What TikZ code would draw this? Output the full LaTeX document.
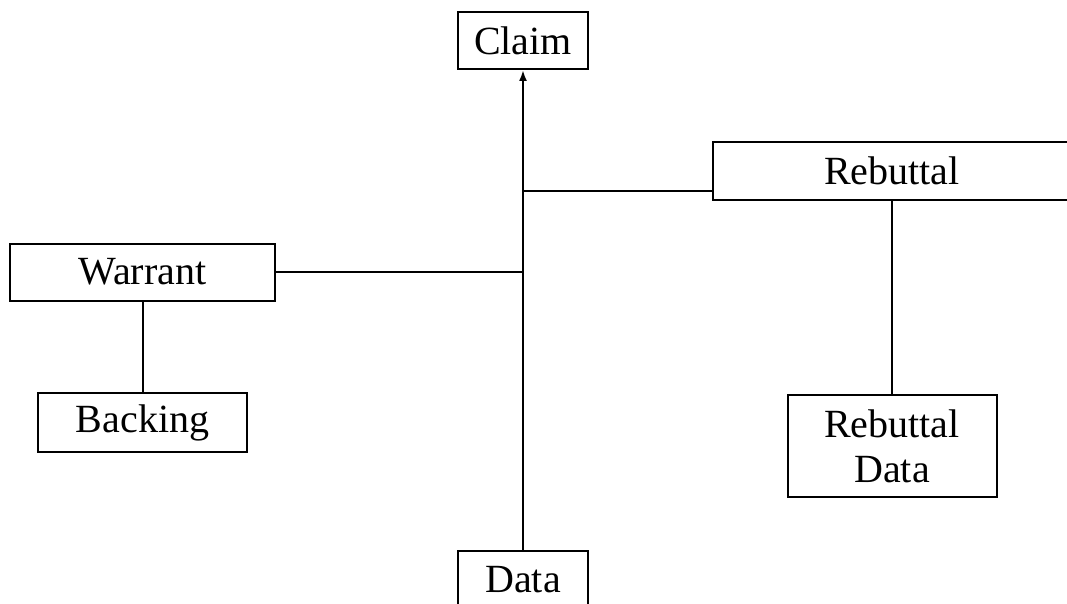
\documentclass[tikz,border=0pt]{standalone}
\usepackage{fontspec}
\setmainfont{Liberation Serif}
\usetikzlibrary{arrows.meta}

\begin{document}
\begin{tikzpicture}[x=1pt,y=-1pt,line width=2pt,
  box/.style={draw,black,line width=2pt,align=center,inner sep=0pt,
    font=\fontsize{40}{45}\selectfont}]
\useasboundingbox (0,0) rectangle (1067,604);
\node[box,minimum width=130pt,minimum height=57pt] (claim) at (523,40.5) {Claim};
\node[box,minimum width=358pt,minimum height=58pt] (rebuttal) at (892,171) {Rebuttal};
\node[box,minimum width=265pt,minimum height=57pt] (warrant) at (142.5,272) {Warrant};
\node[box,minimum width=209pt,minimum height=59pt] (backing) at (142.5,422.5) {Backing};
\node[box,minimum width=209pt,minimum height=102pt] (rebdata) at (892,446) {Rebuttal\\Data};
\node[box,minimum width=130pt,minimum height=57pt] (data) at (523,579.5) {Data};
\coordinate (rjoin) at (523,191);
%\node at (523,300) {};
\draw[-{Latex[length=11pt,width=8pt]}] (data.north) -- (claim.south);
\draw (rjoin) -- (rjoin -| rebuttal.west);
\draw (warrant.east) -- (warrant.east -| data.north);
\draw (warrant) -- (backing);
\draw (rebuttal) -- (rebdata);
\end{tikzpicture}
\end{document}
